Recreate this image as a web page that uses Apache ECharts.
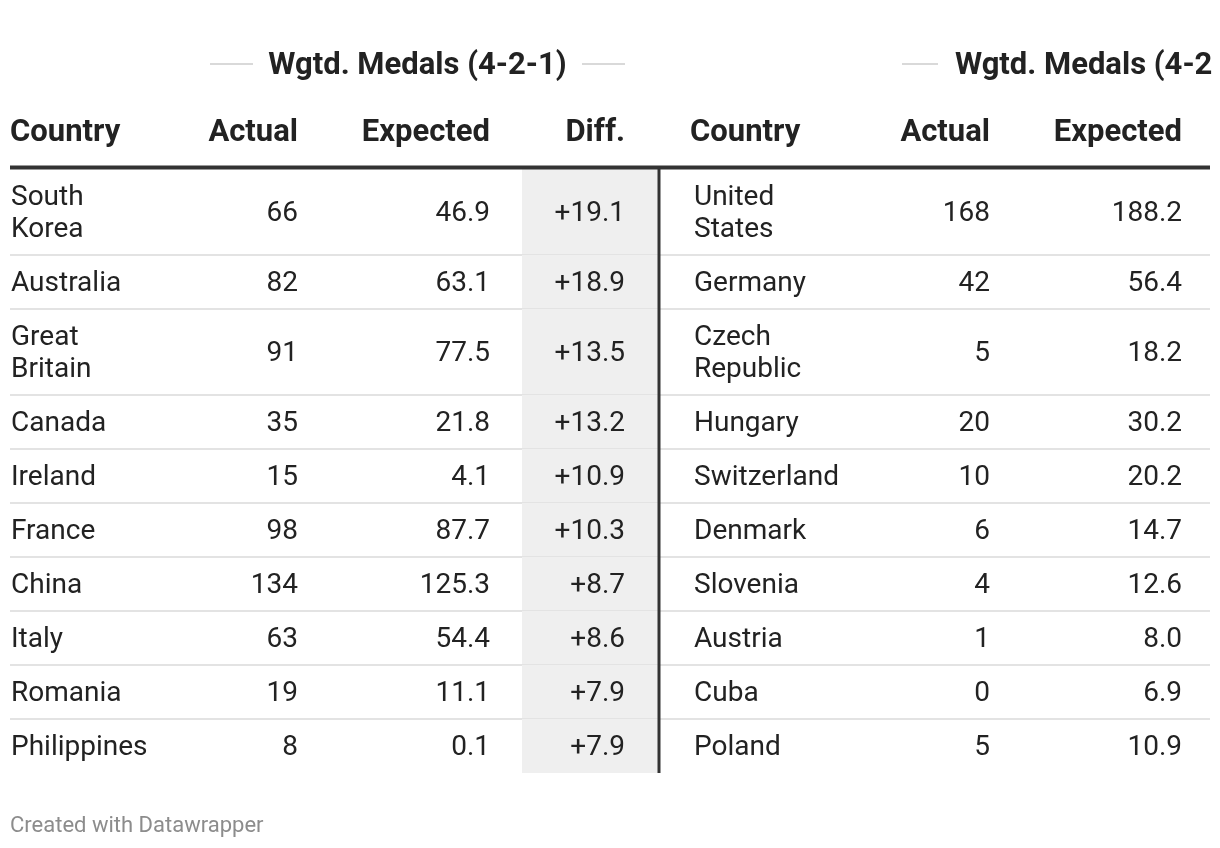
<!DOCTYPE html>
<html>
<head>
<meta charset="utf-8">
<script src="https://cdn.jsdelivr.net/npm/echarts@6/dist/echarts.min.js"></script>
<style>
html,body{margin:0;padding:0;background:#fff;}
#chart{width:1220px;height:848px;}
</style>
</head>
<body>
<div id="chart"></div>
<script>
// ---- data ----
const groupTitle = 'Wgtd. Medals (4-2-1)';
const headersA = ['Country', 'Actual', 'Expected', 'Diff.'];
const headersB = ['Country', 'Actual', 'Expected'];
const countriesA = ['South\nKorea', 'Australia', 'Great\nBritain', 'Canada', 'Ireland', 'France', 'China', 'Italy', 'Romania', 'Philippines'];
const actualA = [66, 82, 91, 35, 15, 98, 134, 63, 19, 8];
const expectedA = [46.9, 63.1, 77.5, 21.8, 4.1, 87.7, 125.3, 54.4, 11.1, 0.1];
const diffA = [19.1, 18.9, 13.5, 13.2, 10.9, 10.3, 8.7, 8.6, 7.9, 7.9];
const countriesB = ['United\nStates', 'Germany', 'Czech\nRepublic', 'Hungary', 'Switzerland', 'Denmark', 'Slovenia', 'Austria', 'Cuba', 'Poland'];
const actualB = [168, 42, 5, 20, 10, 6, 4, 1, 0, 5];
const expectedB = [188.2, 56.4, 18.2, 30.2, 20.2, 14.7, 12.6, 8.0, 6.9, 10.9];
const footer = 'Created with Datawrapper';

// ---- layout (pixel units on hidden axes) ----
const FONT = 'Roboto';
const TOP = 169, BASE_H = 54, LINE_H = 32;
const lines = countriesA.map((c, i) => Math.max(c.split('\n').length, countriesB[i].split('\n').length));
const rowH = lines.map(n => BASE_H + LINE_H * (n - 1));
const rowTop = [];
rowH.reduce((acc, h, i) => { rowTop[i] = acc; return acc + h; }, TOP);

const colA = [{x: 11, align: 'left'}, {x: 298, align: 'right'}, {x: 490, align: 'right'}, {x: 625, align: 'right'}];
const colB = [{x: 694, align: 'left'}, {x: 990, align: 'right'}, {x: 1182, align: 'right'}];
const headA = [{x: 10, align: 'left'}, {x: 298, align: 'right'}, {x: 490, align: 'right'}, {x: 625, align: 'right'}];
const headB = [{x: 690, align: 'left'}, {x: 990, align: 'right'}, {x: 1182, align: 'right'}];
const shade = {x0: 522, x1: 658};
const vline = 659;

const fmt1 = v => v.toFixed(1);
const fmtDiff = v => (v >= 0 ? '+' : '') + v.toFixed(1);

const chart = echarts.init(document.getElementById('chart'), null, {renderer: 'canvas'});

function txt(p, text, align, size, weight, color, extra) {
  const style = {
    text: text, x: p[0], y: p[1],
    fill: color || '#222',
    fontFamily: FONT, fontSize: size, fontWeight: weight || 'normal',
    align: align, verticalAlign: 'middle', lineHeight: LINE_H
  };
  if (extra) Object.assign(style, extra);
  return {type: 'text', style: style};
}

function renderRow(params, api) {
  const i = api.value(0);
  const top = rowTop[i], h = rowH[i], mid = top + h / 2 + 2;
  const children = [];
  const s0 = api.coord([shade.x0, top]);
  const s1 = api.coord([shade.x1, top + h]);
  children.push({type: 'rect', shape: {x: s0[0], y: s0[1], width: s1[0] - s0[0], height: s1[1] - s0[1]}, style: {fill: '#efefef'}});
  if (i < rowH.length - 1) {
    const l0 = api.coord([10, top + h]);
    const l1 = api.coord([1210, top + h]);
    children.push({type: 'line', shape: {x1: l0[0], y1: l0[1], x2: l1[0], y2: l1[1]}, style: {stroke: '#e3e3e3', lineWidth: 2}});
  }
  const v0 = api.coord([vline, top]);
  const v1 = api.coord([vline, top + h]);
  children.push({type: 'line', shape: {x1: v0[0], y1: v0[1], x2: v1[0], y2: v1[1]}, style: {stroke: '#333', lineWidth: 3}});
  const valsA = [countriesA[i], String(actualA[i]), fmt1(expectedA[i]), fmtDiff(diffA[i])];
  valsA.forEach((t, k) => children.push(txt(api.coord([colA[k].x, mid]), t, colA[k].align, 28)));
  const valsB = [countriesB[i], String(actualB[i]), fmt1(expectedB[i])];
  valsB.forEach((t, k) => children.push(txt(api.coord([colB[k].x, mid]), t, colB[k].align, 28)));
  return {type: 'group', children: children};
}

function renderHeader(params, api) {
  const children = [];
  const hy = 133;
  headersA.forEach((t, k) => children.push(txt(api.coord([headA[k].x, hy]), t, headA[k].align, 31, 'bold', '#222')));
  headersB.forEach((t, k) => children.push(txt(api.coord([headB[k].x, hy]), t, headB[k].align, 31, 'bold', '#222')));
  const t0 = api.coord([10, 167.5]), t1 = api.coord([1210, 167.5]);
  children.push({type: 'line', shape: {x1: t0[0], y1: t0[1], x2: t1[0], y2: t1[1]}, style: {stroke: '#333', lineWidth: 4}});
  // group title lines
  const ty = 64;
  [[210, 253], [582, 625], [902, 938]].forEach(seg => {
    const a = api.coord([seg[0], ty]), b = api.coord([seg[1], ty]);
    children.push({type: 'line', shape: {x1: a[0], y1: a[1], x2: b[0], y2: b[1]}, style: {stroke: '#cccccc', lineWidth: 1.5}});
  });
  children.push(txt(api.coord([417.5, ty + 2]), groupTitle, 'center', 31, 'bold', '#222'));
  const rightStart = api.coord([955, ty + 2]);
  const rightEdge = api.coord([1217, ty]);
  children.push(txt(rightStart, groupTitle, 'left', 31, 'bold', '#222',
    {width: rightEdge[0] - rightStart[0], overflow: 'truncate', ellipsis: ''}));
  children.push(txt(api.coord([10, 826]), footer, 'left', 22, 'normal', '#8c8c8c'));
  return {type: 'group', children: children};
}

chart.setOption({
  animation: false,
  backgroundColor: '#ffffff',
  grid: {left: 0, right: 0, top: 0, bottom: 0},
  xAxis: {type: 'value', min: 0, max: 1220, show: false},
  yAxis: {type: 'value', min: 0, max: 848, inverse: true, show: false},
  series: [
    {type: 'custom', coordinateSystem: 'cartesian2d', renderItem: renderRow, clip: false,
     data: countriesA.map((c, i) => [i])},
    {type: 'custom', coordinateSystem: 'cartesian2d', renderItem: renderHeader, clip: false,
     data: [[0]]}
  ]
});
</script>
</body>
</html>
